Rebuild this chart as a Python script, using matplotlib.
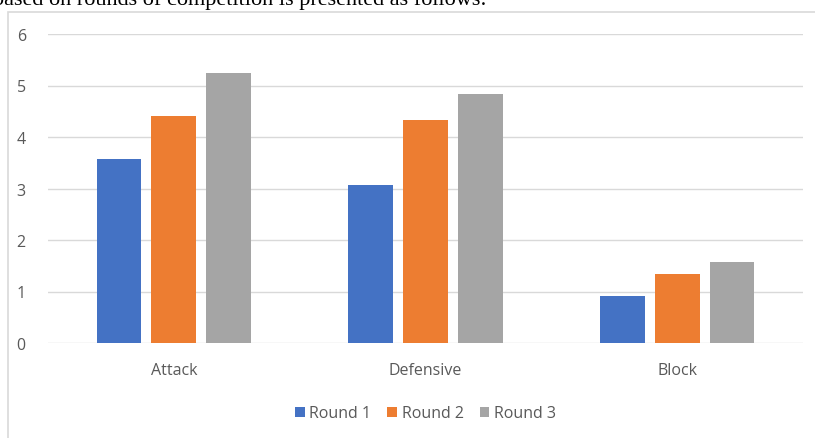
import matplotlib.pyplot as plt
import numpy as np
from matplotlib.patches import Rectangle

categories = ["Attack", "Defensive", "Block"]
series = ["Round 1", "Round 2", "Round 3"]
round1 = [3.57, 3.07, 0.91]
round2 = [4.41, 4.33, 1.34]
round3 = [5.24, 4.83, 1.57]
colors = ["#4472c4", "#ed7d31", "#a5a5a5"]

plt.rcParams["font.family"] = ["Open Sans", "DejaVu Sans"]

fig = plt.figure(figsize=(8.15, 4.39), dpi=100)
ax = fig.add_axes([48 / 815, 1 - 344 / 439, 755 / 815, 309 / 439])

# chart frame (partly outside the crop)
fig.patches.append(Rectangle((8 / 815, -0.1), 1.0, 1 - 13 / 439 + 0.1,
                             transform=fig.transFigure, fill=False,
                             edgecolor="#d9d9d9", lw=1.2))

fig.text(-7 / 815, 1 - 5 / 439, "based on rounds of competition is presented as follows:",
         family="Liberation Serif", fontsize=16, va="baseline", ha="left", color="black")

x = np.arange(len(categories))
w = 0.178
step = 0.218
for i, (vals, name) in enumerate(zip([round1, round2, round3], series)):
    ax.bar(x + (i - 1) * step, vals, w, color=colors[i], label=name, zorder=3)

ax.set_xlim(-0.5, 2.5)
ax.set_ylim(0, 6)
ax.set_yticks(range(0, 7))
ax.set_xticks(x)
ax.set_xticklabels(categories)
ax.grid(axis="y", color="#d9d9d9", lw=1, zorder=0)
for s in ax.spines.values():
    s.set_visible(False)
ax.tick_params(length=0, colors="#595959", labelsize=11.5)
ax.tick_params(axis="y", pad=16)
ax.tick_params(axis="x", pad=14)

ax.legend(loc="upper center", bbox_to_anchor=(0.5, -0.155), ncol=3, frameon=False,
          fontsize=11.5, labelcolor="#595959", handlelength=0.6, handleheight=0.6,
          handletextpad=0.3, columnspacing=1.0)

fig.savefig("out.png", dpi=100)
